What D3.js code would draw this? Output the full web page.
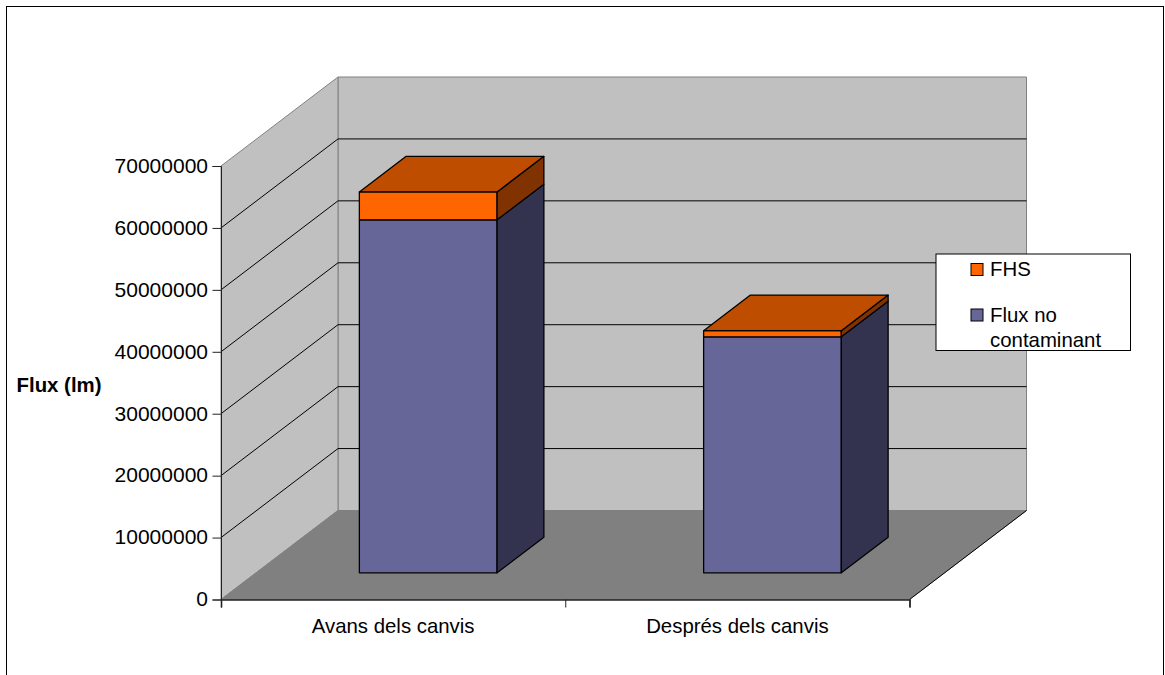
<!DOCTYPE html>
<html><head><meta charset="utf-8">
<script src="https://cdn.jsdelivr.net/npm/d3@7"></script>
<style>html,body{margin:0;background:#fff}svg{display:block}text{font-family:"Liberation Sans",Arial,sans-serif;fill:#000}</style>
</head><body><svg id="chart" width="1165" height="675"></svg>
<script>
// Stacked 3D column chart of luminous flux, before and after the changes
const categories = ["Avans dels canvis", "Després dels canvis"];
const cleanFlux = [57000000, 38100000];
const fhsFlux = [4500000, 1000000];
const yTicks = [0, 10000000, 20000000, 30000000, 40000000, 50000000, 60000000, 70000000];
const yTitle = "Flux (lm)";
const legendNames = ["FHS", "Flux no"];
const legendSecondLine = "contaminant";

const colors = {
  wall: "#c0c0c0", floor: "#808080", edge: "#808080",
  blue: "#666699", blueSide: "#333350", orange: "#ff6600", orangeTop: "#bf4d00", orangeSide: "#803300"
};

const svg = d3.select("#chart");
const frontLeft = 221, frontRight = 909.5, frontBase = 599.5, frontTop = 166;
const depthX = 117, depthY = -89;

const y = d3.scaleLinear().domain([0, 70000000]).range([frontBase, frontTop]);
const x = d3.scaleBand().domain(categories).range([frontLeft, frontRight]).paddingInner(0.6).paddingOuter(0.3);
// A point in the oblique view: z runs from 0 at the front to 1 at the back wall
const pt = (px, py, z) => [px + depthX * z, py + depthY * z];
const poly = (g, points, fill, stroke, w) => g.append("polygon")
  .attr("points", points.map(p => p.join(",")).join(" "))
  .attr("fill", fill).attr("stroke", stroke).attr("stroke-width", w).attr("stroke-linejoin", "round");

svg.append("rect").attr("x", 6.5).attr("y", 6.5).attr("width", 1157).attr("height", 700)
  .attr("fill", "#fff").attr("stroke", "#000");

// Walls and floor
const walls = svg.append("g");
poly(walls, [pt(frontLeft, y(70000000), 1), pt(frontRight, y(70000000), 1), pt(frontRight, y(0), 1), pt(frontLeft, y(0), 1)], colors.wall, colors.edge, 1);
poly(walls, [pt(frontLeft, y(70000000), 0), pt(frontLeft, y(70000000), 1), pt(frontLeft, y(0), 1), pt(frontLeft, y(0), 0)], colors.wall, colors.edge, 1);
poly(walls, [pt(frontLeft, y(0), 0), pt(frontLeft, y(0), 1), pt(frontRight, y(0), 1), pt(frontRight, y(0), 0)], colors.floor, colors.edge, 1);

// Gridlines across the side wall and back wall
const grid = svg.append("g").attr("stroke", "#000").attr("stroke-width", 1).attr("fill", "none");
yTicks.slice(1, -1).forEach(t => {
  const a = pt(frontLeft, y(t), 0), b = pt(frontLeft, y(t), 1), c = pt(frontRight, y(t), 1);
  grid.append("polyline").attr("points", [a, b, c].map(p => p.join(",")).join(" "));
});
// Dark edge of the floor on its open right side
svg.append("line").attr("x1", frontRight).attr("y1", frontBase).attr("x2", frontRight + depthX).attr("y2", frontBase + depthY).attr("stroke", "#000");

// Axes
const yAxis = svg.append("g").attr("transform", `translate(${frontLeft},0)`)
  .call(d3.axisLeft(y).tickValues(yTicks).tickFormat(d3.format("d")).tickSize(8.5).tickPadding(4.5));
const xAxis = svg.append("g").attr("transform", `translate(0,${frontBase})`)
  .call(d3.axisBottom(d3.scalePoint().domain([0, 1, 2]).range([frontLeft, frontRight])).tickFormat("").tickSize(8));
[yAxis, xAxis].forEach(a => { a.selectAll("path,line").attr("stroke", "#222"); });
xAxis.select("path").attr("stroke-width", 1.6);
yAxis.selectAll("text").attr("font-size", 21).attr("dy", "0.3em").attr("fill", "#000")
  .style("font-family", '"Liberation Sans",Arial,sans-serif');

svg.append("g").selectAll("text").data(categories).join("text")
  .attr("x", d => x(d) + x.bandwidth() / 2)
  .attr("y", 633).attr("text-anchor", "middle").attr("font-size", 20.4).text(d => d);

svg.append("text").attr("x", 59).attr("y", 392).attr("text-anchor", "middle")
  .attr("font-size", 20.4).attr("font-weight", "bold").text(yTitle);

// Stacked columns, one prism per segment, from the bottom up
const zFront = 0.3, zBack = 0.7;
function prism(g, left, right, v0, v1, front, side, top) {
  const corner = (px, v, z) => pt(px, y(v), z);
  poly(g, [corner(left, v0, zFront), corner(right, v0, zFront), corner(right, v1, zFront), corner(left, v1, zFront)], front, "#000", 1.3);
  poly(g, [corner(right, v0, zFront), corner(right, v0, zBack), corner(right, v1, zBack), corner(right, v1, zFront)], side, "#000", 1.3);
  if (top) poly(g, [corner(left, v1, zFront), corner(right, v1, zFront), corner(right, v1, zBack), corner(left, v1, zBack)], top, "#000", 1.3);
}
categories.forEach((c, i) => {
  const g = svg.append("g");
  const l = x(c), r = l + x.bandwidth();
  prism(g, l, r, 0, cleanFlux[i], colors.blue, colors.blueSide, null);
  prism(g, l, r, cleanFlux[i], cleanFlux[i] + fhsFlux[i], colors.orange, colors.orangeSide, colors.orangeTop);
});

// Legend
const legend = svg.append("g");
legend.append("rect").attr("x", 936).attr("y", 254).attr("width", 194.5).attr("height", 96.5).attr("fill", "#fff").attr("stroke", "#000");
const swatches = [colors.orange, colors.blue];
legendNames.forEach((n, i) => {
  const ly = [263.5, 309][i];
  legend.append("rect").attr("x", 971).attr("y", ly).attr("width", 12).attr("height", 12).attr("fill", swatches[i]).attr("stroke", "#000");
  legend.append("text").attr("x", 990).attr("y", [276, 322][i]).attr("font-size", 20.4).text(n);
});
legend.append("text").attr("x", 990).attr("y", 347).attr("font-size", 20.4).text(legendSecondLine);
</script></body></html>
